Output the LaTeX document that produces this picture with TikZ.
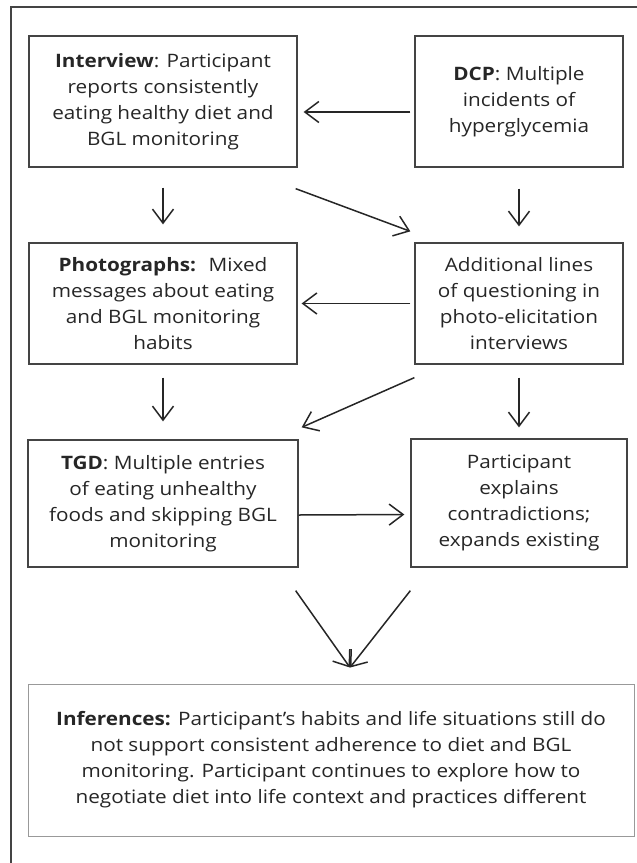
\documentclass[tikz,border=0pt]{standalone}
\usepackage{fontspec}
\setmainfont[FakeStretch=1.12]{Open Sans}
\usetikzlibrary{arrows.meta}
\definecolor{boxline}{HTML}{444444}
\definecolor{inkgray}{HTML}{262626}
\begin{document}
\begin{tikzpicture}[x=1pt,y=-1pt,
  box/.style={draw=boxline,line width=1.3pt,align=center,inner sep=0pt,text=inkgray,
    font=\fontsize{18.5}{26}\selectfont},
  arr/.style={draw=inkgray,line width=1.5pt,-{Straight Barb[length=14pt,width=21pt,line width=1.5pt]}}]
\useasboundingbox (0,0) rectangle (637,863);
%\draw[step=50,gray,very thin] (0,0) grid (637,863);
\draw[boxline,line width=1.3pt] (11,863) -- (11,7) -- (637,7);
\node[box,minimum width=268pt,minimum height=131pt] (interview) at (163,101.5)
  {\textbf{Interview}: Participant\\reports consistently\\eating healthy diet and\\BGL monitoring};
\node[box,minimum width=208pt,minimum height=131pt] (dcp) at (519,101.5)
  {\textbf{DCP}: Multiple\\incidents of\\hyperglycemia};
\node[box,minimum width=268pt,minimum height=121pt] (photos) at (163,303.5)
  {\textbf{Photographs:}~ Mixed\\messages about eating\\and BGL monitoring\\habits};
\node[box,minimum width=208pt,minimum height=121pt] (additional) at (519,303.5)
  {Additional lines\\of questioning in\\photo-elicitation\\interviews};
\node[box,minimum width=270pt,minimum height=127pt] (tgd) at (163,503.5)
  {\textbf{TGD}: Multiple entries\\of eating unhealthy\\foods and skipping BGL\\monitoring};
\node[box,minimum width=216pt,minimum height=128pt] (participant) at (519,503)
  {Participant\\explains\\contradictions;\\expands existing};
\node[box,draw=gray!80,line width=0.9pt,minimum width=606pt,minimum height=152pt] (inferences) at (331,760)
  {\textbf{Inferences:} Participant’s habits and life situations still do\\not support consistent adherence to diet and BGL\\monitoring. Participant continues to explore how to\\negotiate diet into life context and practices different};
\coordinate (tip) at ([shift={(19pt,16pt)}]inferences.north);
% first row
\draw[arr,shorten <=4pt,shorten >=6pt] ([yshift=-10.5pt]dcp.west) -- ([yshift=-10.5pt]interview.east);
\draw[arr,shorten <=20pt,shorten >=18pt] (interview.south) -- (photos.north);
\draw[arr,shorten <=21pt,shorten >=16pt] (dcp.south) -- (additional.north);
\draw[arr] ([shift={(-2pt,-21pt)}]interview.south east) -- ([shift={(-4pt,11pt)}]additional.north west);
% second row
\draw[arr,shorten <=4pt,shorten >=4pt] (additional.west) -- (photos.east);
\draw[arr,shorten <=13pt,shorten >=18pt] (photos.south) -- (tgd.north);
\draw[arr,shorten <=13pt,shorten >=11pt] (additional.south) -- (participant.north);
\draw[arr] ([yshift=-13pt]additional.south west) -- ([shift={(3pt,12pt)}]tgd.north east);
% third row
\draw[arr,shorten >=6pt] ([yshift=-11.5pt]tgd.east) -- ([yshift=-11.5pt]participant.west);
\draw[arr] ([shift={(-3pt,-23pt)}]tgd.south east) -- (tip);
\draw[arr] ([yshift=-23pt]participant.south west) -- (tip);
\end{tikzpicture}
\end{document}
